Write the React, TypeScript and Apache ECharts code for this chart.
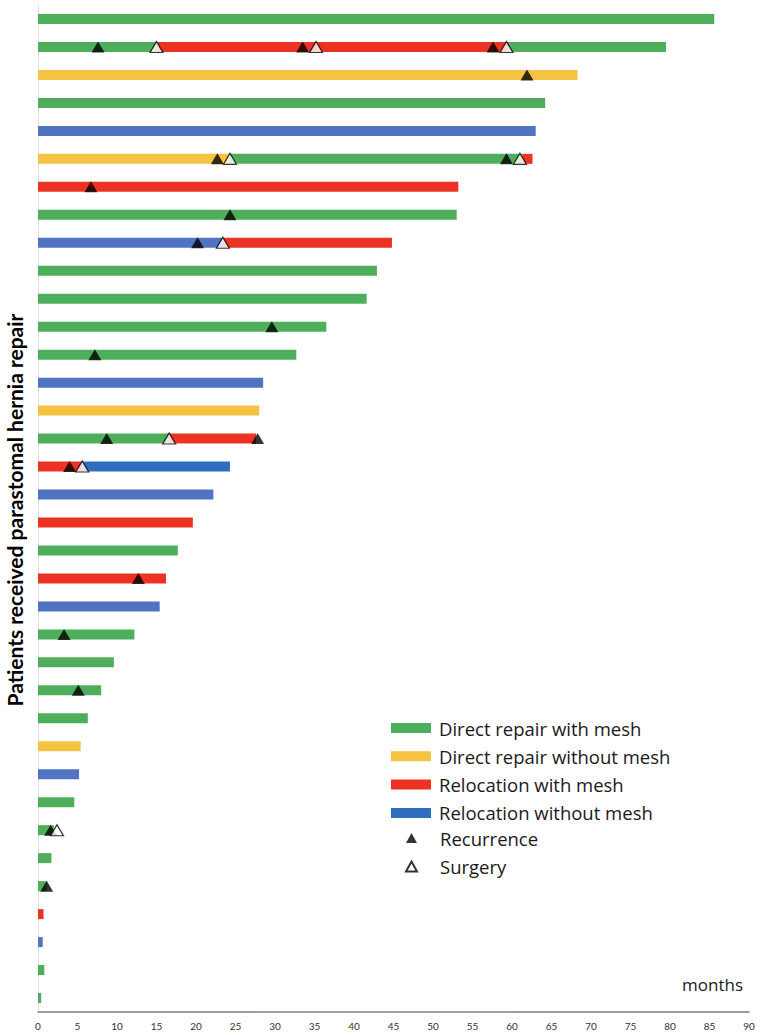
import React, { useEffect, useRef } from "react";
import * as echarts from "echarts";

// 36 patients, top row first
const patients = Array.from({ length: 36 }, (_, i) => `Patient ${i + 1}`);
const xTicks = { min: 0, max: 90, interval: 5 };

// [patientIndex, startMonth, endMonth]
const directRepairWithMesh: [number, number, number][] = [
  [0, 0, 85.6], [1, 0, 15.1], [1, 59.6, 79.5], [3, 0, 64.2], [5, 24.2, 61.3],
  [7, 0, 53.0], [9, 0, 42.9], [10, 0, 41.6], [11, 0, 36.5], [12, 0, 32.7],
  [15, 0, 16.6], [19, 0, 17.7], [22, 0, 12.2], [23, 0, 9.6], [24, 0, 8.0],
  [25, 0, 6.3], [28, 0, 4.6], [29, 0, 2.0], [30, 0, 1.7], [31, 0, 1.1],
  [34, 0, 0.8], [35, 0, 0.4],
];
const directRepairWithoutMesh: [number, number, number][] = [
  [2, 0, 68.3], [5, 0, 24.2], [14, 0, 28.0], [26, 0, 5.4],
];
const relocationWithMesh: [number, number, number][] = [
  [1, 15.1, 59.6], [5, 61.3, 62.6], [6, 0, 53.2], [8, 23.4, 44.8], [15, 16.6, 27.6],
  [16, 0, 5.6], [18, 0, 19.6], [20, 0, 16.2], [32, 0, 0.7],
];
// last field: 1 = lighter shade used in most bars
const relocationWithoutMesh: [number, number, number, number][] = [
  [4, 0, 63.0, 1], [8, 0, 23.4, 1], [13, 0, 28.5, 1], [16, 5.6, 24.3, 0],
  [17, 0, 22.2, 1], [21, 0, 15.4, 1], [27, 0, 5.2, 1], [33, 0, 0.6, 1],
];
// [month, patientIndex]
const recurrence: [number, number][] = [
  [7.6, 1], [33.5, 1], [57.6, 1], [61.9, 2], [22.7, 5], [59.3, 5], [6.7, 6],
  [24.3, 7], [20.2, 8], [29.6, 11], [7.2, 12], [8.7, 15], [27.8, 15], [4.0, 16],
  [12.7, 20], [3.3, 22], [5.1, 24], [1.6, 29], [1.1, 31],
];
const surgery: [number, number][] = [
  [15.0, 1], [35.2, 1], [59.3, 1], [24.3, 5], [61.0, 5], [23.4, 8], [16.6, 15],
  [5.6, 16], [2.4, 29],
];

const GREEN = "#4fae5b";
const YELLOW = "#f5c343";
const RED = "#ec3323";
const BLUE = "#2f6ebf";
const BLUE_LIGHT = "#5073c2";
const FONT = "Lato";
const TEXT_FONT = "Open Sans";

const renderSegment = (params: any, api: any) => {
  const row = api.value(0);
  const p0 = api.coord([api.value(1), row]);
  const p1 = api.coord([api.value(2), row]);
  const h = 10;
  return {
    type: "rect",
    shape: { x: p0[0], y: p0[1] - h / 2, width: p1[0] - p0[0], height: h },
    style: api.style(),
  };
};

const segSeries = (name: string, color: string, data: any[]) => ({
  name,
  type: "custom",
  renderItem: renderSegment,
  itemStyle: { color },
  encode: { x: [1, 2], y: 0 },
  data,
  z: 2,
});

export default function App() {
  const ref = useRef<HTMLDivElement>(null);
  useEffect(() => {
    document.body.style.margin = "0";
    const chart = echarts.init(ref.current!, null, { renderer: "svg" });
    chart.setOption({
      animation: false,
      backgroundColor: "#ffffff",
      textStyle: { fontFamily: FONT },
      grid: { left: 38, right: 12, top: 5, bottom: 23, containLabel: false },
      xAxis: {
        type: "value",
        min: xTicks.min,
        max: xTicks.max,
        interval: xTicks.interval,
        splitLine: { show: false },
        axisLine: { show: true, lineStyle: { color: "#7f7f7f", width: 1.5 } },
        axisTick: { show: false },
        axisLabel: { fontSize: 10, color: "#333333", margin: 9, fontFamily: FONT },
      },
      yAxis: {
        type: "category",
        data: patients,
        inverse: true,
        axisLine: { show: true, lineStyle: { color: "#e0e0e0", width: 1 } },
        axisTick: { show: false },
        axisLabel: { show: false },
        splitLine: { show: false },
      },
      legend: [
        {
          orient: "vertical",
          left: 391,
          top: 718,
          padding: 0,
          itemWidth: 40,
          itemHeight: 10,
          itemGap: 8.3,
          icon: "rect",
          textStyle: {
            fontSize: 18.5,
            color: "#1a1a1a",
            fontFamily: TEXT_FONT,
            lineHeight: 20,
            padding: [0, 0, 0, 3],
          },
          data: [
            "Direct repair with mesh",
            "Direct repair without mesh",
            "Relocation with mesh",
            "Relocation without mesh",
          ],
        },
        {
          orient: "vertical",
          left: 405,
          top: 828,
          padding: 0,
          itemWidth: 11,
          itemHeight: 10,
          itemGap: 8.5,
          icon: "triangle",
          textStyle: {
            fontSize: 18.5,
            color: "#1a1a1a",
            fontFamily: TEXT_FONT,
            lineHeight: 20,
            padding: [0, 0, 0, 18],
          },
          data: ["Recurrence", "Surgery"],
        },
      ],
      graphic: [
        {
          type: "text",
          x: 14,
          y: 510,
          rotation: Math.PI / 2,
          style: {
            text: "Patients received parastomal hernia repair",
            fontSize: 21,
            fontWeight: "bold",
            fontFamily: FONT,
            fill: "#000",
            align: "center",
            verticalAlign: "middle",
          },
        },
        {
          type: "text",
          right: 18,
          top: 976,
          style: { text: "months", fontSize: 17, fontFamily: TEXT_FONT, fill: "#1a1a1a" },
        },
      ],
      series: [
        segSeries("Direct repair with mesh", GREEN, directRepairWithMesh),
        segSeries("Direct repair without mesh", YELLOW, directRepairWithoutMesh),
        segSeries("Relocation with mesh", RED, relocationWithMesh),
        segSeries(
          "Relocation without mesh",
          BLUE,
          relocationWithoutMesh.map((d) => ({
            value: d,
            itemStyle: { color: d[3] ? BLUE_LIGHT : BLUE },
          }))
        ),
        {
          name: "Recurrence",
          type: "scatter",
          symbol: "triangle",
          symbolSize: [13, 11],
          itemStyle: { color: "#000000" },
          data: recurrence,
          z: 5,
        },
        {
          name: "Surgery",
          type: "scatter",
          symbol: "triangle",
          symbolSize: [13, 11],
          itemStyle: { color: "#ffffff", borderColor: "#000000", borderWidth: 1.2 },
          data: surgery,
          z: 6,
        },
      ],
    });
    return () => chart.dispose();
  }, []);
  return <div ref={ref} style={{ width: 761, height: 1035 }} />;
}
